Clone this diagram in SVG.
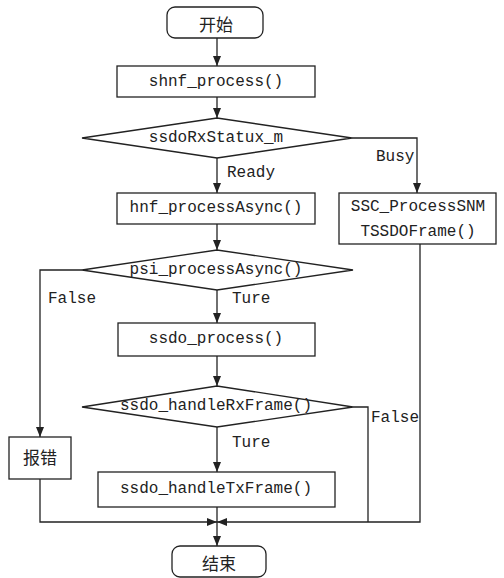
<svg xmlns="http://www.w3.org/2000/svg" width="504" height="578" viewBox="0 0 504 578">
<style>
.s{fill:#fff;stroke:#222;stroke-width:1.3}
.c{fill:none;stroke:#222;stroke-width:1.3}
.t{font-family:"Liberation Mono",monospace;font-size:16px;fill:#222;text-anchor:middle;dominant-baseline:central}
.z{font-family:"Noto Sans CJK SC",sans-serif;font-size:17px;fill:#222;text-anchor:middle;dominant-baseline:central}
.l{font-family:"Liberation Mono",monospace;font-size:16px;fill:#222;dominant-baseline:central}
</style>
<defs>
<marker id="a" markerUnits="userSpaceOnUse" markerWidth="10" markerHeight="8" refX="10" refY="4" orient="auto"><path d="M0,0 L10,4 L0,8 z" fill="#222"/></marker>
</defs>
<rect width="504" height="578" fill="#fff"/>
<g id="connectors">
<path class="c" d="M217,38 V66" marker-end="url(#a)"/>
<path class="c" d="M217,97 V118" marker-end="url(#a)"/>
<path class="c" d="M217,158 V193" marker-end="url(#a)"/>
<path class="c" d="M352,138 H417 V193" marker-end="url(#a)"/>
<path class="c" d="M217,224 V250" marker-end="url(#a)"/>
<path class="c" d="M217,290 V323" marker-end="url(#a)"/>
<path class="c" d="M82,270 H40 V437" marker-end="url(#a)"/>
<path class="c" d="M217,356 V386" marker-end="url(#a)"/>
<path class="c" d="M217,427 V472" marker-end="url(#a)"/>
<path class="c" d="M353,407 H368 V522"/>
<path class="c" d="M420,244 V522 H217" marker-end="url(#a)"/>
<path class="c" d="M40,479 V522 H217" marker-end="url(#a)"/>
<path class="c" d="M217,507 V546" marker-end="url(#a)"/>
<text class="l" x="376" y="157">Busy</text>
<text class="l" x="227" y="173">Ready</text>
<text class="l" x="48" y="299">False</text>
<text class="l" x="232" y="299">Ture</text>
<text class="l" x="371" y="418">False</text>
<text class="l" x="232" y="443">Ture</text>
</g>
<g id="start"><rect class="s" x="167" y="7" width="96" height="31" rx="8"/><text class="z" x="216" y="23">开始</text></g>
<g id="shnf"><rect class="s" x="117" y="66" width="198" height="31"/><text class="t" x="216" y="82">shnf_process()</text></g>
<g id="d1"><polygon class="s" points="82,138 217,118 352,138 217,158"/><text class="t" x="216" y="138">ssdoRxStatux_m</text></g>
<g id="hnf"><rect class="s" x="117" y="193" width="198" height="31"/><text class="t" x="216" y="208">hnf_processAsync()</text></g>
<g id="ssc"><rect class="s" x="339" y="193" width="157" height="51"/><text class="t" x="418" y="207">SSC_ProcessSNM</text><text class="t" x="418" y="232">TSSDOFrame()</text></g>
<g id="d2"><polygon class="s" points="82,270 217,250 353,270 217,290"/><text class="t" x="216" y="270">psi_processAsync()</text></g>
<g id="ssdo"><rect class="s" x="118" y="323" width="197" height="33"/><text class="t" x="216" y="339">ssdo_process()</text></g>
<g id="d3"><polygon class="s" points="82,407 217,386 353,407 217,427"/><text class="t" x="216" y="406">ssdo_handleRxFrame()</text></g>
<g id="err"><rect class="s" x="9" y="437" width="62" height="42"/><text class="z" x="40" y="456">报错</text></g>
<g id="tx"><rect class="s" x="98" y="472" width="237" height="35"/><text class="t" x="216" y="489">ssdo_handleTxFrame()</text></g>
<g id="end"><rect class="s" x="172" y="546" width="94" height="31" rx="8"/><text class="z" x="219" y="562">结束</text></g>
</svg>
